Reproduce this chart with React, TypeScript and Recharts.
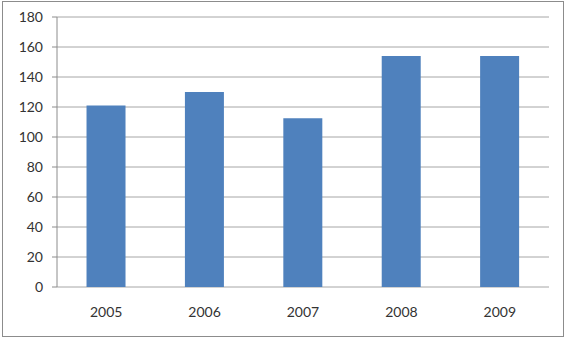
import { Bar, BarChart, CartesianGrid, XAxis, YAxis } from "recharts";

const years = ["2005", "2006", "2007", "2008", "2009"];
const values = [121, 130, 112.5, 154, 154];
const yTicks = [0, 20, 40, 60, 80, 100, 120, 140, 160, 180];
const dividerTicks = [0, 1, 2, 3, 4, 5];

const data = years.map((year, i) => ({ year, value: values[i], pos: i + 0.5 }));

const font = { fontFamily: "Lato, 'Liberation Sans', sans-serif", fontSize: 14, fill: "#333" };

export default function App() {
  return (
    <div style={{ position: "absolute", left: 0, top: 0, width: 565, height: 338, background: "#fff" }}>
      <div
        style={{
          position: "absolute",
          left: 2,
          top: 1,
          width: 562,
          height: 336,
          boxSizing: "border-box",
          border: "1px solid #8c8c8c",
        }}
      />
      <div style={{ position: "absolute", left: 0, top: 0 }}>
        <BarChart
          width={565}
          height={338}
          data={data}
          margin={{ top: 17, right: 16, bottom: 21, left: 0 }}
          barCategoryGap="30%"
        >
          <CartesianGrid vertical={false} stroke="#a6a6a6" />
          <XAxis
            xAxisId="div"
            dataKey="pos"
            type="number"
            domain={[0, 5]}
            ticks={dividerTicks}
            height={0}
            tickSize={5}
            tick={false}
            tickLine={{ stroke: "#8c8c8c" }}
            axisLine={{ stroke: "#8c8c8c" }}
          />
          <XAxis
            dataKey="year"
            height={30}
            tickLine={false}
            axisLine={false}
            tickSize={6}
            tickMargin={14}
            tick={font}
          />
          <YAxis
            domain={[0, 180]}
            ticks={yTicks}
            width={57}
            tickSize={5}
            tickMargin={9}
            tick={font}
            axisLine={{ stroke: "#8c8c8c" }}
            tickLine={{ stroke: "#8c8c8c" }}
            interval={0}
          />
          <Bar dataKey="value" fill="#4f81bd" isAnimationActive={false} />
        </BarChart>
      </div>
    </div>
  );
}
